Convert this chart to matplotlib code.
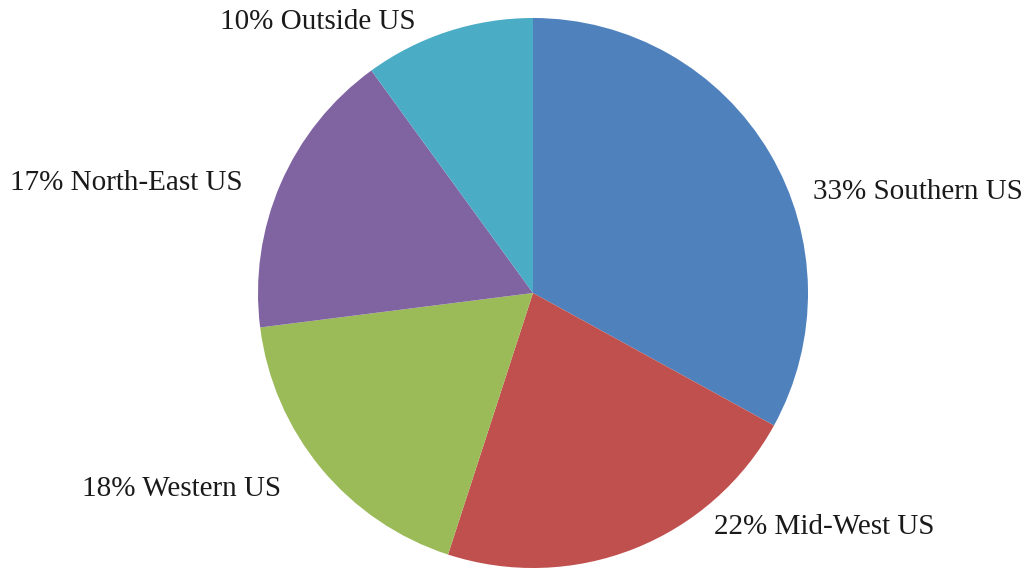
import matplotlib.pyplot as plt

regions = ['Southern US', 'Mid-West US', 'Western US', 'North-East US', 'Outside US']
shares = [33, 22, 18, 17, 10]
colors = ['#4F81BD', '#C0504D', '#9BBB59', '#8064A2', '#4BACC6']
# label anchor (left edge, vertical centre) in pixel coords
label_pos = [(813, 192), (714, 527), (82, 489), (10, 183), (220, 22)]

W, H = 1032, 569
fig = plt.figure(figsize=(W / 100, H / 100), dpi=100)
ax = fig.add_axes([0, 0, 1, 1])

ax.pie(shares, colors=colors, startangle=90, counterclock=False,
       center=(533, H - 293), radius=275, frame=True)

for name, val, (x, y) in zip(regions, shares, label_pos):
    ax.text(x, H - y, f'{val}% {name}', ha='left', va='center',
            fontsize=21, family='Liberation Serif', color='#1a1a1a')

ax.set_xlim(0, W)
ax.set_ylim(0, H)
ax.set_aspect('equal')
ax.axis('off')

fig.savefig('out.png', dpi=100, facecolor='white')
